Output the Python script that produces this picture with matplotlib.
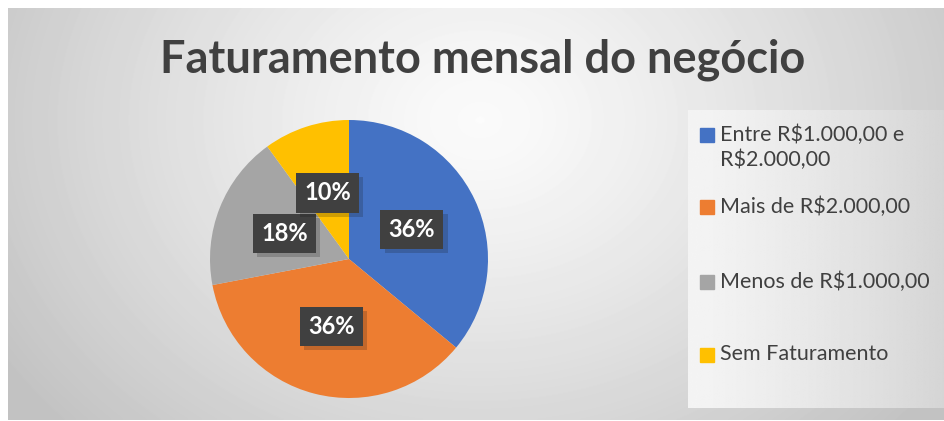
import matplotlib

matplotlib.use('Agg')

import matplotlib.pyplot as plt
import matplotlib.patheffects as pe
from matplotlib.patches import Rectangle
import numpy as np

# chart data
categories = ['Entre R$1.000,00 e\nR$2.000,00', 'Mais de R$2.000,00',
              'Menos de R$1.000,00', 'Sem Faturamento']
shares = [36, 36, 18, 10]
colors = ['#4472c4', '#ed7d31', '#a5a5a5', '#ffc000']
title = 'Faturamento mensal do negócio'

W, H = 945, 421
FONT = 'Lato'
TEXT = '#404040'

fig = plt.figure(figsize=(W / 100, H / 100), dpi=100)
fig.patch.set_facecolor('white')

# background axes in pixel units
bg = fig.add_axes([0, 0, 1, 1])
bg.axis('off')

yy, xx = np.mgrid[8:420, 8:945]
d = np.hypot((xx - 480) / 1.0, (yy - 120) / 0.8)
t = np.clip(d / 560, 0, 1)
shade = 0.985 - 0.22 * t ** 1.2
bg.imshow(shade, cmap='gray', vmin=0, vmax=1, extent=(8, 945, 420, 8),
          aspect='auto', interpolation='bilinear', zorder=0)

# lighter legend panel with its own left-to-right gradient
lx = np.linspace(0, 1, 200)
panel = np.tile(0.955 - 0.12 * lx ** 1.3, (10, 1))
bg.imshow(panel, cmap='gray', vmin=0, vmax=1, extent=(688, 945, 408, 110),
          aspect='auto', interpolation='bilinear', zorder=1)
bg.set_xlim(0, W)
bg.set_ylim(H, 0)

bg.text(483, 60, title, ha='center', va='center', fontsize=32.5,
        fontweight='bold', color=TEXT, family=FONT)

# legend, drawn by hand to follow the Excel layout
rows_y = [135, 207, 282, 355]
for lab, col, y in zip(categories, colors, rows_y):
    bg.add_patch(Rectangle((700, y - 7), 14, 14, color=col, zorder=3))
    bg.text(720, y - 10.5, lab, ha='left', va='top', fontsize=15.5,
            color=TEXT, family=FONT, linespacing=1.3, zorder=3)

# pie
cx, cy, r = 349, 259, 139
ax = fig.add_axes([(cx - r) / W, (H - cy - r) / H, 2 * r / W, 2 * r / H])
wedges, texts, autotexts = ax.pie(
    shares, colors=colors, startangle=90, counterclock=False,
    autopct='%1.0f%%', pctdistance=0.5, radius=1,
    wedgeprops=dict(linewidth=0),
    textprops=dict(color='white', fontsize=17, fontweight='bold', family=FONT))
ax.set_xlim(-1, 1)
ax.set_ylim(-1, 1)
ax.set_aspect('equal')
ax.axis('off')

for at in autotexts:
    at.set_bbox(dict(boxstyle='square,pad=0.35', fc='#404040', lw=0))
    at.get_bbox_patch().set_path_effects(
        [pe.SimplePatchShadow(offset=(3, -3), alpha=0.2), pe.Normal()])

fig.savefig('out.png', dpi=100)
